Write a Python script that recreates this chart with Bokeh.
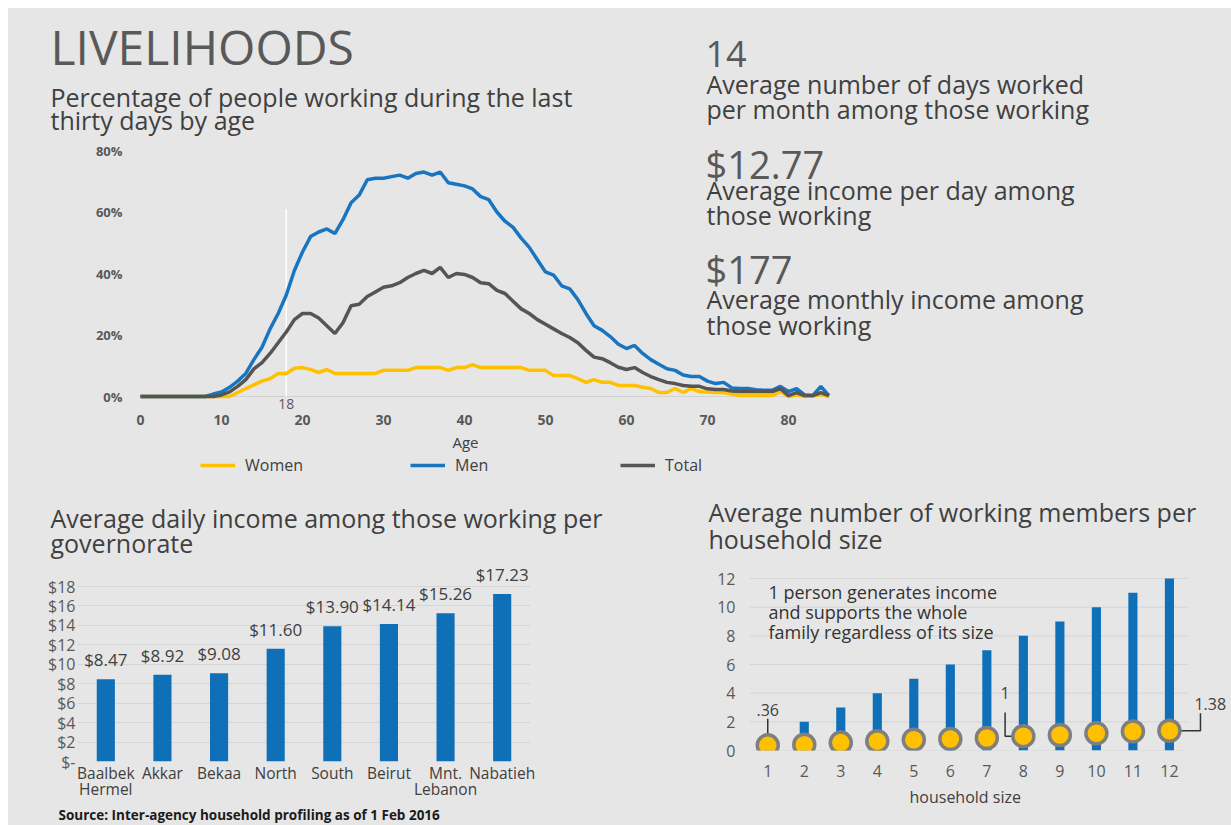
from bokeh.plotting import figure
from bokeh.models import (Range1d, FactorRange, FixedTicker, Label, LabelSet, Title,
                          ColumnDataSource, Legend, LegendItem, CategoricalAxis)
from bokeh.layouts import column, row
from bokeh.embed import file_html
from bokeh.resources import INLINE
from bokeh.core.properties import value

# ---------------- data ----------------
ages = list(range(0, 86))
men = [0, 0, 0, 0, 0, 0, 0, 0, 0, 0.8,
       1.5, 3, 5, 7.5, 12, 16, 22, 27, 33, 41,
       47, 52, 53.5, 54.5, 53, 57.5, 63, 65.5, 70.5, 71,
       71, 71.5, 72, 71, 72.5, 73, 72, 73, 69.5, 69,
       68.5, 67.5, 65, 64, 60, 57, 55, 51.5, 48.5, 44.5,
       40.5, 39.5, 36, 35, 31.5, 27, 23, 21.5, 19.5, 17,
       15.6, 16.6, 14, 12, 10.5, 9, 8.5, 7, 6.5, 6.5,
       5, 4.2, 4.6, 2.8, 2.6, 2.6, 2.2, 2, 2, 3.3,
       1.6, 2.6, 0.5, 0.3, 3.3, 0.3]
total = [0, 0, 0, 0, 0, 0, 0, 0, 0, 0,
         0.5, 1.5, 3.3, 5.5, 9, 11, 14, 17.5, 21, 25,
         27, 27, 25.5, 23, 20.5, 24, 29.5, 30, 32.5, 34,
         35.5, 36, 37, 38.7, 40, 41, 40, 42, 38.7, 40,
         39.7, 38.7, 37, 36.7, 34.5, 33.5, 31, 28.5, 27, 25,
         23.5, 22, 20.5, 19.2, 17.5, 15, 12.8, 12.3, 11, 9.5,
         8.8, 9.4, 7.8, 6.5, 5.5, 4.6, 4.2, 3.6, 3.3, 3.3,
         2.5, 2.3, 2.3, 1.8, 1.6, 1.6, 1.6, 1.6, 1.6, 2.6,
         0.3, 1.3, 0.3, 0.3, 1.3, 0.3]
women = [0, 0, 0, 0, 0, 0, 0, 0, 0, 0,
         0, 0, 1.3, 2.6, 3.8, 5, 5.8, 7.5, 7.5, 9.2,
         9.4, 8.8, 7.8, 8.8, 7.5, 7.5, 7.5, 7.5, 7.5, 7.5,
         8.5, 8.5, 8.5, 8.5, 9.4, 9.4, 9.4, 9.4, 8.5, 9.4,
         9.4, 10.4, 9.4, 9.4, 9.4, 9.4, 9.4, 9.4, 8.5, 8.5,
         8.5, 6.8, 6.8, 6.8, 5.8, 4.6, 5.5, 4.6, 4.6, 3.6,
         3.6, 3.6, 3, 2.6, 1.3, 1.3, 2.6, 1.3, 2.6, 1.6,
         1.5, 1.3, 1.3, 0.8, 0.3, 0.3, 0.3, 0.3, 0.3, 1.6,
         0, 0.5, 0, 0.2, 0.6, 0]
age_ticks = [0, 10, 20, 30, 40, 50, 60, 70, 80]
pct_ticks = [0, 20, 40, 60, 80]
pct_labels = ["0%", "20%", "40%", "60%", "80%"]
adult_age = 18
adult_line_top = 61

governorates = ["Baalbek Hermel", "Akkar", "Bekaa", "North", "South", "Beirut",
                "Mnt. Lebanon", "Nabatieh"]
governorate_line1 = ["Baalbek", "Akkar", "Bekaa", "North", "South", "Beirut", "Mnt.", "Nabatieh"]
governorate_line2 = ["Hermel", " ", "  ", "   ", "    ", "     ", "Lebanon", "      "]
daily_income = [8.47, 8.92, 9.08, 11.60, 13.90, 14.14, 15.26, 17.23]
income_ticks = [0, 2, 4, 6, 8, 10, 12, 14, 16, 18]
income_tick_labels = ["$-", "$2", "$4", "$6", "$8", "$10", "$12", "$14", "$16", "$18"]

hh_size = [1, 2, 3, 4, 5, 6, 7, 8, 9, 10, 11, 12]
hh_members = [1, 2, 3, 4, 5, 6, 7, 8, 9, 10, 11, 12]
working_members = [0.36, 0.40, 0.55, 0.65, 0.75, 0.80, 0.87, 1.00, 1.08, 1.20, 1.33, 1.38]
members_ticks = [0, 2, 4, 6, 8, 10, 12]

key_figures = [("14", "Average number of days worked", "per month among those working"),
               ("$12.77", "Average income per day among", "those working"),
               ("$177", "Average monthly income among", "those working")]

# ---------------- style ----------------
BG = "#e6e6e6"
FONT = "Open Sans"
BLUE = "#1a75c0"
BAR_BLUE = "#0f6fb7"
YELLOW = "#ffc000"
DARK = "#555555"
TXT = "#404040"
TICK = "#595959"
HEAD = 25  # heading text size, px


def base_fig(w, h, xr, yr, mb, xaxis=True, yaxis=True):
    kw = {}
    if not xaxis:
        kw["x_axis_location"] = None
    if not yaxis:
        kw["y_axis_location"] = None
    p = figure(width=w, height=h, x_range=xr, y_range=yr, output_backend="svg",
               toolbar_location=None, min_border_left=mb[0], min_border_right=mb[1],
               min_border_top=mb[2], min_border_bottom=mb[3], **kw)
    if "frame_align" in p.properties():
        p.frame_align = False
    p.background_fill_color = BG
    p.border_fill_color = BG
    p.outline_line_color = None
    p.grid.visible = False
    for ax in p.xaxis + p.yaxis:
        style_axis(ax)
    return p


def style_axis(ax):
    ax.axis_line_color = None
    ax.major_tick_line_color = None
    ax.minor_tick_line_color = None
    ax.major_tick_out = 0
    ax.major_tick_in = 0
    ax.major_label_text_font = FONT
    ax.major_label_text_color = TICK


def text_fig(w, h):
    return base_fig(w, h, Range1d(0, 1), Range1d(0, 1), (0, 0, 0, 0), xaxis=False, yaxis=False)


def put(p, fl, fb, x, y, text, size, color=TXT, align="left", bold=False):
    """text centred vertically at page position (x, y); fl/fb = page x of frame left, page y of frame bottom"""
    p.add_layout(Label(x=x - fl, y=fb - y, x_units="screen", y_units="screen",
                       text=text, text_font=FONT, text_font_size=f"{size}px",
                       text_color=color, text_align=align, text_baseline="middle",
                       text_font_style="bold" if bold else "normal"))


def add_title(p, text, side, offset, size, standoff, color=TXT, bold=False):
    p.add_layout(Title(text=text, align="left", offset=offset, standoff=standoff,
                       text_font=FONT, text_font_size=f"{size}px", text_color=color,
                       text_font_style="bold" if bold else "normal"), side)


# ---------------- header text (page y 8..136) ----------------
TOP_SPLIT = 136
pt = text_fig(1223, TOP_SPLIT - 8)
put(pt, 8, TOP_SPLIT, 50, 46, "LIVELIHOODS", 48, color="#595959")
put(pt, 8, TOP_SPLIT, 50, 96, "Percentage of people working during the last", HEAD)
put(pt, 8, TOP_SPLIT, 50, 119, "thirty days by age", HEAD)
put(pt, 8, TOP_SPLIT, 705, 53, key_figures[0][0], 36, color="#595959")
put(pt, 8, TOP_SPLIT, 706, 83, key_figures[0][1], HEAD)
put(pt, 8, TOP_SPLIT, 706, 108, key_figures[0][2], HEAD)

# ---------------- line chart (page y 136..431) ----------------
p1 = base_fig(1223, 431 - TOP_SPLIT, Range1d(-1.235, 134.7),
              Range1d(-5.85, (396 - TOP_SPLIT) / 3.075), (122, 0, 0, 17))
p1.xaxis.ticker = FixedTicker(ticks=age_ticks)
p1.yaxis.ticker = FixedTicker(ticks=pct_ticks)
p1.yaxis.major_label_overrides = {t: l for t, l in zip(pct_ticks, pct_labels)}
p1.xaxis.major_label_text_font_size = "14px"
p1.yaxis.major_label_text_font_size = "13px"
p1.xaxis.major_label_text_font_style = "bold"
p1.yaxis.major_label_text_font_style = "bold"
p1.xaxis.major_label_standoff = 0
p1.yaxis.major_label_standoff = 8

p1.segment(x0=[ages[0]], x1=[ages[-1]], y0=[0], y1=[0], line_color="#d2d2d2", line_width=1)
p1.segment(x0=[adult_age], x1=[adult_age], y0=[0], y1=[adult_line_top],
           line_color="white", line_width=1.5)
p1.line(ages, women, line_color=YELLOW, line_width=3.5)
p1.line(ages, men, line_color=BLUE, line_width=3.5)
p1.line(ages, total, line_color=DARK, line_width=3.5)
p1.add_layout(Label(x=adult_age, y=0, y_offset=-2, text=str(adult_age), text_font=FONT,
                    text_font_size="14px", text_color=TICK, text_align="center",
                    text_baseline="top"))
for (big, l1, l2), (yb, y1, y2) in zip(key_figures[1:], [(163, 189, 214), (268, 298, 324)]):
    put(p1, 130, 414, 705, yb, big, 38, color="#595959")
    put(p1, 130, 414, 706, y1, l1, HEAD)
    put(p1, 130, 414, 706, y2, l2, HEAD)

# ---------------- axis title + legend strip (page y 431..485) ----------------
pl = text_fig(1223, 54)
put(pl, 8, 485, 465, 441, "Age", 15, align="center")
lw = pl.line([-3, -2], [-3, -2], line_color=YELLOW, line_width=3.5)
lm = pl.line([-3, -2], [-3, -2], line_color=BLUE, line_width=3.5)
lt = pl.line([-3, -2], [-3, -2], line_color=DARK, line_width=3.5)
legend = Legend(items=[LegendItem(label="Women", renderers=[lw]),
                       LegendItem(label="Men", renderers=[lm]),
                       LegendItem(label="Total", renderers=[lt])],
                orientation="horizontal", location=(192, 9), glyph_width=35,
                glyph_height=20, label_standoff=10, label_width=150, spacing=15,
                padding=0, margin=0, background_fill_alpha=0, border_line_alpha=0,
                label_text_font=FONT, label_text_font_size="16px", label_text_color=TXT)
pl.add_layout(legend)

# ---------------- bottom-left: daily income per governorate ----------------
t2 = text_fig(622, 77)          # page y 485..562
put(t2, 8, 562, 50, 517, "Average daily income among those working per", HEAD)
put(t2, 8, 562, 50, 542, "governorate", HEAD)

p2 = base_fig(622, 263, FactorRange(factors=governorates), Range1d(0, 20.47),
              (69, 100, 0, 56), xaxis=False)   # page y 562..825
p2.extra_x_ranges = {"line1": FactorRange(factors=governorate_line1),
                     "line2": FactorRange(factors=governorate_line2)}
for rng, stand in [("line1", 0), ("line2", -9)]:
    ax = CategoricalAxis(x_range_name=rng)
    style_axis(ax)
    ax.major_label_standoff = stand
    ax.major_label_text_font_size = "15.5px"
    ax.major_label_text_color = TXT
    p2.add_layout(ax, "below")
p2.yaxis.ticker = FixedTicker(ticks=income_ticks)
p2.yaxis.major_label_overrides = {t: l for t, l in zip(income_ticks, income_tick_labels)}
p2.yaxis.major_label_text_font_size = "16px"
p2.yaxis.major_label_standoff = 2
p2.ygrid.visible = True
p2.ygrid.ticker = FixedTicker(ticks=income_ticks)
p2.ygrid.grid_line_color = "#d5d5d5"
p2.vbar(x=governorates, top=daily_income, width=0.32, fill_color=BAR_BLUE, line_color=None)
src2 = ColumnDataSource(dict(x=governorates, y=daily_income,
                             t=[f"${v:.2f}" for v in daily_income]))
p2.add_layout(LabelSet(x="x", y="y", text="t", source=src2, y_offset=8,
                       text_align="center", text_baseline="bottom",
                       text_font=value(FONT), text_font_size="17px", text_color=TXT))
add_title(p2, "Source: Inter-agency household profiling as of 1 Feb 2016", "below", -19, 13.5, 3,
          color="#1a1a1a", bold=True)

# ---------------- bottom-right: working members per household size ----------------
t3 = text_fig(601, 80)          # page y 485..565
put(t3, 630, 565, 708, 511, "Average number of working members per", HEAD)
put(t3, 630, 565, 708, 538, "household size", HEAD)

p3 = base_fig(601, 260, Range1d(0.5, 13.7), Range1d(0, 12.56), (119, 0, 5, 75))  # page y 565..825
p3.xaxis.ticker = FixedTicker(ticks=hh_size)
p3.yaxis.ticker = FixedTicker(ticks=members_ticks)
p3.xaxis.major_label_text_font_size = "16px"
p3.yaxis.major_label_text_font_size = "16px"
p3.yaxis.major_label_standoff = 14
p3.xaxis.major_label_standoff = 14
p3.segment(x0=[hh_size[0] - 0.5] * len(members_ticks), x1=[hh_size[-1] + 0.5] * len(members_ticks),
           y0=members_ticks, y1=members_ticks, line_color="#d5d5d5", line_width=1)
p3.vbar(x=hh_size, top=hh_members, width=0.25, fill_color=BAR_BLUE, line_color=None)
# callout leader lines
p3.line([hh_size[0], hh_size[0]], [working_members[0] + 0.75, working_members[0] + 1.85],
        line_color="#333333", line_width=1.5)
p3.line([hh_size[7] - 0.5, hh_size[7] - 0.5, hh_size[7]],
        [working_members[7] + 1.65, working_members[7], working_members[7]],
        line_color="#333333", line_width=1.5)
p3.line([hh_size[11], hh_size[11] + 0.85, hh_size[11] + 0.85],
        [working_members[11], working_members[11], working_members[11] + 1.22],
        line_color="#333333", line_width=1.5)
p3.scatter(hh_size, working_members, size=21, fill_color=YELLOW, line_color="#7f7f7f",
           line_width=3.5)
p3.add_layout(Label(x=hh_size[0], y=working_members[0] + 1.85, y_offset=3,
                    text=f"{working_members[0]:.2f}".lstrip("0"), text_font=FONT,
                    text_font_size="16px", text_color=TXT, text_align="center",
                    text_baseline="bottom"))
p3.add_layout(Label(x=hh_size[7] - 0.5, y=working_members[7] + 1.65, y_offset=14,
                    text=f"{working_members[7]:g}", text_font=FONT,
                    text_font_size="16px", text_color=TXT, text_align="center",
                    text_baseline="bottom"))
p3.add_layout(Label(x=hh_size[11] + 0.85, y=working_members[11] + 1.22, x_offset=-6, y_offset=3,
                    text=f"{working_members[11]:g}", text_font=FONT,
                    text_font_size="16px", text_color=TXT, text_align="left",
                    text_baseline="bottom"))
put(p3, 749, 750, 768, 591, "1 person generates income", 18, color="#333333")
put(p3, 749, 750, 768, 611, "and supports the whole", 18, color="#333333")
put(p3, 749, 750, 768, 631, "family regardless of its size", 18, color="#333333")
add_title(p3, "household size", "below", 160, 16, 8)

bottom = row(column(t2, p2, spacing=0), column(t3, p3, spacing=0), spacing=0,
             styles={"background-color": BG})
layout = column(pt, p1, pl, bottom, spacing=0, margin=(8, 0, 0, 8),
                styles={"background-color": BG})
open("out.html", "w").write(file_html(layout, INLINE))
